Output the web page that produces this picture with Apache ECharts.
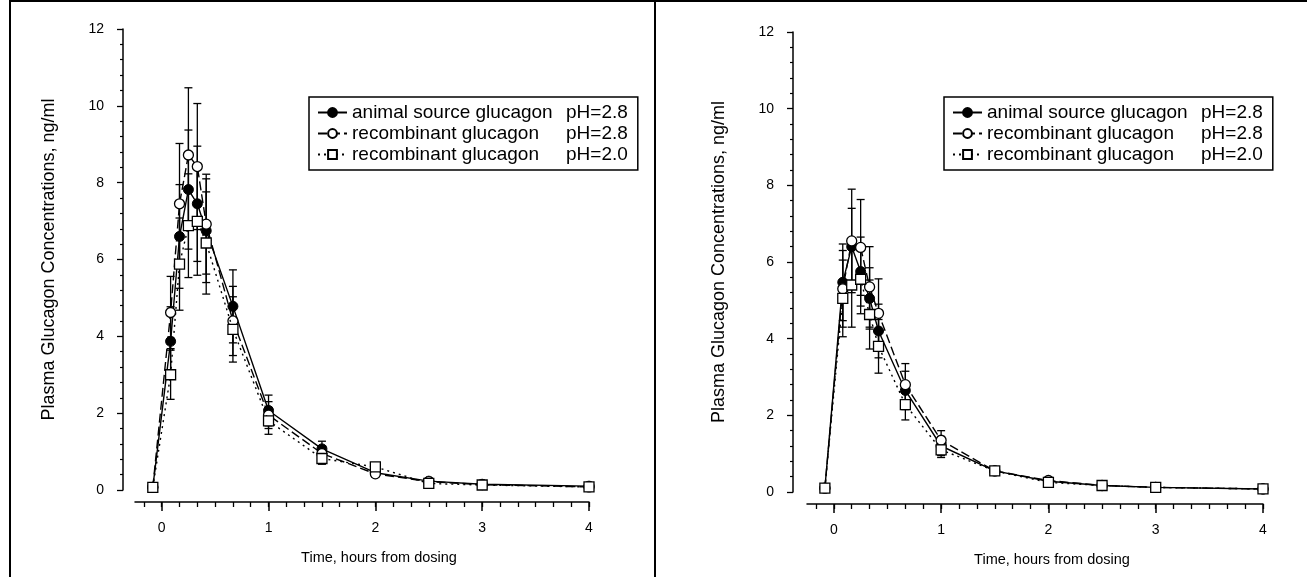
<!DOCTYPE html>
<html>
<head>
<meta charset="utf-8">
<script src="https://cdn.jsdelivr.net/npm/echarts@6/dist/echarts.min.js"></script>
<style>
html,body{margin:0;padding:0;background:#fff;}
#c{width:1307px;height:577px;}
</style>
</head>
<body>
<div id="c"></div>
<script>
// ---- data ----
const timeMinutes = [-5, 5, 10, 15, 20, 25, 40, 60, 90, 120, 150, 180, 240];
const seriesNames = ['animal source glucagon pH=2.8', 'recombinant glucagon pH=2.8', 'recombinant glucagon pH=2.0'];
const xTickLabels = [0, 1, 2, 3, 4];
const xMinorTickMinutes = [-10, 0, 10, 20, 30, 40, 50, 60, 70, 80, 90, 100, 110, 120, 130, 140, 150, 160, 170, 180, 190, 200, 210, 220, 230, 240];

const leftAnimal     = [0.07, 3.87, 6.60, 7.82, 7.45, 6.75, 4.78, 2.07, 1.07, 0.45, 0.23, 0.15, 0.10];
const leftAnimalSD   = [0.02, 0.90, 1.35, 1.55, 1.50, 1.35, 0.95, 0.40, 0.20, 0.08, 0.05, 0.03, 0.02];
const leftRec28      = [0.07, 4.62, 7.45, 8.72, 8.42, 6.92, 4.40, 1.95, 0.95, 0.42, 0.22, 0.14, 0.08];
const leftRec28SD    = [0.02, 0.94, 1.57, 1.75, 1.64, 1.30, 0.90, 0.35, 0.20, 0.08, 0.05, 0.03, 0.02];
const leftRec20      = [0.07, 3.00, 5.88, 6.88, 6.99, 6.43, 4.18, 1.80, 0.82, 0.60, 0.17, 0.13, 0.08];
const leftRec20SD    = [0.02, 0.64, 1.20, 1.35, 1.40, 1.33, 0.85, 0.35, 0.15, 0.08, 0.04, 0.03, 0.02];

const rightAnimal    = [0.10, 5.47, 6.40, 5.75, 5.05, 4.20, 2.65, 1.20, 0.55, 0.28, 0.17, 0.12, 0.08];
const rightAnimalSD  = [0.02, 1.00, 1.00, 0.90, 0.80, 0.70, 0.50, 0.25, 0.08, 0.05, 0.03, 0.02, 0.02];
const rightRec28     = [0.10, 5.30, 6.55, 6.38, 5.35, 4.66, 2.80, 1.35, 0.55, 0.30, 0.17, 0.12, 0.08];
const rightRec28SD   = [0.02, 1.00, 1.35, 1.25, 1.05, 0.90, 0.55, 0.25, 0.08, 0.05, 0.03, 0.02, 0.02];
const rightRec20     = [0.10, 5.05, 5.40, 5.55, 4.63, 3.80, 2.28, 1.10, 0.55, 0.25, 0.17, 0.12, 0.08];
const rightRec20SD   = [0.02, 1.00, 1.10, 0.90, 0.90, 0.70, 0.40, 0.20, 0.08, 0.05, 0.03, 0.02, 0.02];

// ---- build ----
const FONT = 'Liberation Sans, Arial, Helvetica, sans-serif';
const hours = timeMinutes.map(m => m / 60);
const pts = vals => vals.map((v, i) => [hours[i], v]);
const errs = (vals, sd) => vals.map((v, i) => [hours[i], v - sd[i], v + sd[i]]);

function errorSeries(name, vals, sd, gi) {
  return {
    type: 'custom', name: name + ' (SD)', xAxisIndex: gi * 2, yAxisIndex: gi, z: 1, silent: true,
    data: errs(vals, sd),
    renderItem: function (params, api) {
      const x = api.value(0);
      const lo = api.coord([x, api.value(1)]);
      const hi = api.coord([x, api.value(2)]);
      const w = 4;
      const st = { stroke: '#000', lineWidth: 1.3 };
      return { type: 'group', children: [
        { type: 'line', shape: { x1: lo[0], y1: lo[1], x2: hi[0], y2: hi[1] }, style: st },
        { type: 'line', shape: { x1: lo[0] - w, y1: lo[1], x2: lo[0] + w, y2: lo[1] }, style: st },
        { type: 'line', shape: { x1: hi[0] - w, y1: hi[1], x2: hi[0] + w, y2: hi[1] }, style: st }
      ]};
    }
  };
}
const styles = [
  { symbol: 'circle', itemStyle: { color: '#000', borderColor: '#000', borderWidth: 1 }, lineStyle: { color: '#000', width: 1.4, type: 'solid' } },
  { symbol: 'circle', itemStyle: { color: '#fff', borderColor: '#000', borderWidth: 1.3 }, lineStyle: { color: '#000', width: 1.4, type: [9, 4] } },
  { symbol: 'rect', itemStyle: { color: '#fff', borderColor: '#000', borderWidth: 1.3 }, lineStyle: { color: '#000', width: 1.4, type: [2, 4] } }
];
function lineSeries(k, vals, gi) {
  return Object.assign({
    type: 'line', name: seriesNames[k], xAxisIndex: gi * 2, yAxisIndex: gi, z: 3 + k,
    symbolSize: 10, data: pts(vals), animation: false,
    emphasis: { disabled: true }
  }, JSON.parse(JSON.stringify(styles[k])));
}

const grids = [
  { left: 135, top: 29, width: 454, height: 461 },
  { left: 807, top: 32, width: 456, height: 460 }
];
const yOffsets = [12, 14];

const xAxes = [], yAxes = [];
grids.forEach((g, gi) => {
  xAxes.push({
    type: 'value', gridIndex: gi, min: -0.25, max: 4, position: 'bottom', offset: 12,
    axisLine: { show: true, onZero: false, lineStyle: { color: '#000', width: 1.5 } },
    axisTick: { show: true, length: 5, lineStyle: { color: '#000', width: 1.3 }, customValues: xMinorTickMinutes.map(m => m / 60) },
    axisLabel: { show: false }, splitLine: { show: false }
  });
  xAxes.push({
    type: 'value', gridIndex: gi, min: -0.25, max: 4, position: 'bottom', offset: 12,
    axisLine: { show: false, onZero: false },
    axisTick: { show: true, length: 9, lineStyle: { color: '#000', width: 1.5 }, customValues: xTickLabels },
    axisLabel: { show: true, customValues: xTickLabels, color: '#000', fontSize: 14, fontFamily: FONT, margin: 19 },
    splitLine: { show: false },
    name: 'Time, hours from dosing', nameLocation: 'middle', nameGap: 48,
    nameTextStyle: { color: '#000', fontSize: 14.5, fontFamily: FONT, padding: [0, 0, 0, 34] }
  });
  yAxes.push({
    type: 'value', gridIndex: gi, min: 0, max: 12, interval: 2, offset: yOffsets[gi],
    axisLine: { show: true, onZero: false, lineStyle: { color: '#000', width: 1.5 } },
    axisTick: { show: true, length: 6, lineStyle: { color: '#000', width: 1.3 } },
    minorTick: { show: true, splitNumber: 5, length: 3, lineStyle: { color: '#000', width: 1.2 } },
    axisLabel: { color: '#000', fontSize: 14, fontFamily: FONT, margin: 19 },
    splitLine: { show: false },
    name: 'Plasma Glucagon Concentrations, ng/ml', nameLocation: 'middle', nameGap: 65,
    nameTextStyle: { color: '#000', fontSize: 18, fontFamily: FONT }
  });
});

const series = [];
const dataSets = [
  [[leftAnimal, leftAnimalSD], [leftRec28, leftRec28SD], [leftRec20, leftRec20SD]],
  [[rightAnimal, rightAnimalSD], [rightRec28, rightRec28SD], [rightRec20, rightRec20SD]]
];
dataSets.forEach((ds, gi) => {
  ds.forEach((d, k) => series.push(lineSeries(k, d[0], gi)));
});
dataSets.forEach((ds, gi) => {
  ds.forEach((d, k) => series.push(errorSeries(seriesNames[k], d[0], d[1], gi)));
});

function legendAt(left, top) {
  return {
    orient: 'vertical', left: left, top: top, data: seriesNames,
    itemWidth: 29, itemHeight: 11, itemGap: 2,
    padding: [6, 10, 6, 8], borderColor: '#000', borderWidth: 1.5, borderRadius: 0,
    selectedMode: false,
    textStyle: {
      color: '#000', fontSize: 19, fontFamily: FONT,
      rich: {
        a: { width: 214, fontSize: 19, fontFamily: FONT, color: '#000' },
        b: { fontSize: 19, fontFamily: FONT, color: '#000' }
      }
    },
    formatter: function (name) {
      const i = name.lastIndexOf(' pH');
      return '{a|' + name.slice(0, i) + '}{b|' + name.slice(i + 1) + '}';
    }
  };
}

const option = {
  animation: false,
  backgroundColor: '#fff',
  grid: grids,
  xAxis: xAxes,
  yAxis: yAxes,
  legend: [legendAt(309, 97), legendAt(944, 97)],
  series: series,
  graphic: [
    { type: 'line', shape: { x1: 10, y1: 1, x2: 1307, y2: 1 }, style: { stroke: '#000', lineWidth: 2 } },
    { type: 'line', shape: { x1: 10, y1: 0, x2: 10, y2: 577 }, style: { stroke: '#000', lineWidth: 2 } },
    { type: 'line', shape: { x1: 655, y1: 0, x2: 655, y2: 577 }, style: { stroke: '#000', lineWidth: 2 } }
  ]
};
const chart = echarts.init(document.getElementById('c'), null, { renderer: 'canvas' });
chart.setOption(option);
</script>
</body>
</html>
